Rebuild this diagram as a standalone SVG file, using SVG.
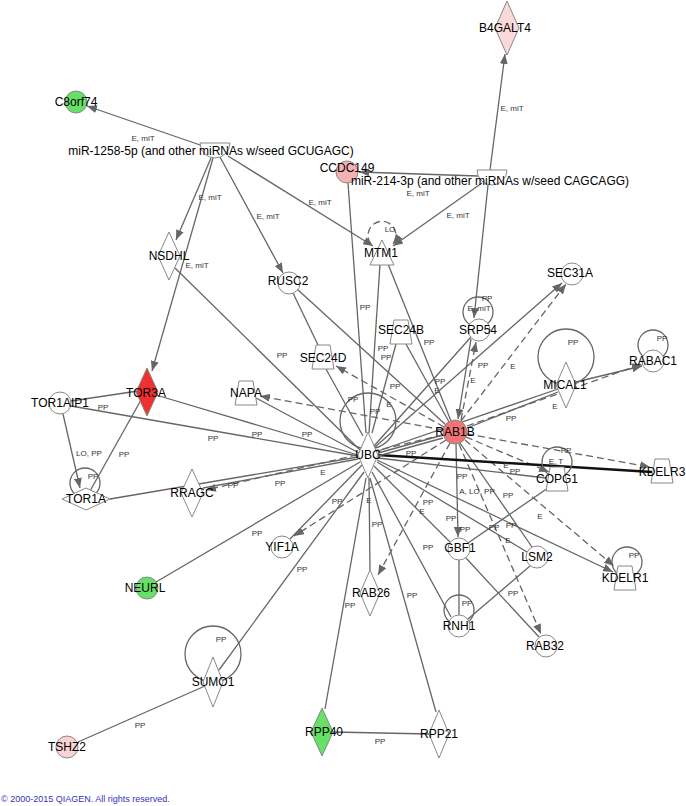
<svg xmlns="http://www.w3.org/2000/svg" width="686" height="806" viewBox="0 0 686 806">
<defs>
<marker id="ah" viewBox="0 0 10 8" refX="10" refY="4" markerWidth="10" markerHeight="8" markerUnits="userSpaceOnUse" orient="auto"><path d="M0,0 L10,4 L0,8 z" fill="#666"/></marker>
<style>
.e{stroke:#666;stroke-width:1.3;fill:none}
.d{stroke:#666;stroke-width:1.3;fill:none;stroke-dasharray:7,4}
.a{marker-end:url(#ah)}
.n{stroke:#888;stroke-width:1;fill:#fff}
.t{font-family:"Liberation Sans",Arial,sans-serif;font-size:12px;fill:#000;text-anchor:middle}
.l{font-family:"Liberation Sans",Arial,sans-serif;font-size:8px;fill:#333;text-anchor:middle}
.c{font-family:"Liberation Sans",Arial,sans-serif;font-size:9px;fill:#3333bb}
</style>
</defs>
<rect width="686" height="806" fill="#fff"/>
<g id="edges">
<line class="e a" x1="203" y1="146" x2="87" y2="106"/>
<line class="e a" x1="211" y1="158" x2="176" y2="240"/>
<line class="e a" x1="213" y1="158" x2="152" y2="371"/>
<line class="e a" x1="220" y1="157" x2="283" y2="273"/>
<line class="e a" x1="228" y1="156" x2="373" y2="246"/>
<line class="e a" x1="490" y1="170" x2="505" y2="54"/>
<line class="e a" x1="478" y1="176" x2="359" y2="172"/>
<line class="e a" x1="482" y1="183" x2="393" y2="246"/>
<line class="e a" x1="488" y1="185" x2="474" y2="318"/>
<path class="d a" d="M371,244 A14 14 0 1 1 393,244"/>
<line class="e" x1="348" y1="183" x2="366" y2="433"/>
<line class="e" x1="380" y1="264" x2="369" y2="433"/>
<line class="e" x1="388" y1="264" x2="451" y2="421"/>
<line class="e" x1="175" y1="268" x2="360" y2="450"/>
<line class="e" x1="293" y1="293" x2="318" y2="345"/>
<line class="e" x1="297" y1="289" x2="446" y2="425"/>
<line class="e" x1="326" y1="369" x2="363" y2="436"/>
<line class="d a" x1="444" y1="427" x2="336" y2="366"/>
<line class="d a" x1="443" y1="430" x2="260" y2="396"/>
<line class="e" x1="256" y1="398" x2="359" y2="453"/>
<line class="e" x1="71" y1="401" x2="138" y2="391"/>
<line class="e" x1="156" y1="395" x2="358" y2="455"/>
<line class="e" x1="71" y1="406" x2="358" y2="456"/>
<line class="e a" x1="63" y1="414" x2="80" y2="488"/>
<line class="e" x1="90" y1="491" x2="141" y2="400"/>
<line class="e" x1="110" y1="499" x2="358" y2="457"/>
<line class="e" x1="203" y1="488" x2="358" y2="459"/>
<line class="d a" x1="443" y1="435" x2="206" y2="490"/>
<line class="e" x1="360" y1="462" x2="156" y2="582"/>
<line class="e" x1="362" y1="465" x2="290" y2="539"/>
<line class="d a" x1="446" y1="440" x2="294" y2="536"/>
<line class="e" x1="364" y1="472" x2="219" y2="670"/>
<line class="e" x1="366" y1="478" x2="325" y2="709"/>
<line class="e" x1="370" y1="478" x2="436" y2="712"/>
<line class="e" x1="333" y1="732" x2="429" y2="734"/>
<line class="e" x1="205" y1="686" x2="78" y2="742"/>
<line class="e" x1="369" y1="478" x2="370" y2="570"/>
<line class="d a" x1="450" y1="443" x2="378" y2="575"/>
<line class="e" x1="372" y1="472" x2="451" y2="617"/>
<line class="e" x1="374" y1="466" x2="450" y2="542"/>
<line class="e a" x1="456" y1="444" x2="458" y2="537"/>
<line class="e" x1="459" y1="560" x2="459" y2="615"/>
<line class="e" x1="466" y1="558" x2="539" y2="637"/>
<line class="e" x1="530" y1="566" x2="468" y2="619"/>
<line class="d a" x1="459" y1="444" x2="541" y2="634"/>
<line class="e" x1="377" y1="462" x2="527" y2="552"/>
<line class="e" x1="460" y1="443" x2="532" y2="547"/>
<line class="e a" x1="377" y1="460" x2="613" y2="572"/>
<line class="d a" x1="465" y1="440" x2="614" y2="566"/>
<line class="e" x1="378" y1="458" x2="546" y2="478"/>
<line class="d a" x1="466" y1="437" x2="549" y2="472"/>
<line class="e" x1="548" y1="488" x2="468" y2="543"/>
<line x1="378" y1="455" x2="652" y2="472" stroke="#111" stroke-width="2.5"/>
<line class="d a" x1="467" y1="434" x2="650" y2="467"/>
<line class="e" x1="378" y1="453" x2="443" y2="435"/>
<line class="e" x1="378" y1="456" x2="443" y2="438"/>
<line class="e" x1="378" y1="451" x2="558" y2="389"/>
<line class="e" x1="467" y1="428" x2="558" y2="392"/>
<line class="d a" x1="467" y1="426" x2="642" y2="364"/>
<line class="e a" x1="576" y1="382" x2="642" y2="366"/>
<line class="e a" x1="375" y1="447" x2="562" y2="283"/>
<line class="d a" x1="461" y1="421" x2="566" y2="284"/>
<line class="e" x1="374" y1="446" x2="471" y2="337"/>
<line class="e a" x1="471" y1="339" x2="458" y2="419"/>
<line class="d a" x1="461" y1="420" x2="476" y2="342"/>
<line class="e" x1="396" y1="344" x2="372" y2="433"/>
<line class="e" x1="406" y1="344" x2="449" y2="422"/>
<circle class="e" cx="478" cy="312" r="15"/>
<circle class="e" cx="368" cy="421" r="28"/>
<circle class="e" cx="566" cy="357" r="28"/>
<circle class="e" cx="653" cy="345" r="15"/>
<circle class="e" cx="557" cy="462" r="15"/>
<circle class="e" cx="627" cy="562" r="15"/>
<circle class="e" cx="459" cy="610" r="15"/>
<circle class="e" cx="85" cy="483" r="15"/>
<circle class="e" cx="213" cy="654" r="28"/>
<g class="l">
<text x="143" y="141">E, miT</text><text x="210" y="200">E, miT</text><text x="268" y="219">E, miT</text><text x="320" y="205">E, miT</text><text x="197" y="268">E, miT</text><text x="512" y="111">E, miT</text><text x="418" y="196">E, miT</text><text x="458" y="218">E, miT</text><text x="479" y="311">E, miT</text><text x="487" y="301">PP</text><text x="390" y="232">LO</text>
<text x="282" y="358">PP</text><text x="103" y="410">PP</text><text x="213" y="441">PP</text><text x="257" y="437">PP</text><text x="307" y="437">PP</text><text x="89" y="456">LO, PP</text><text x="124" y="457">PP</text><text x="93" y="479">PP</text><text x="323" y="475">E</text><text x="233" y="488">PP</text><text x="280" y="486">PP</text><text x="337" y="504">PP</text><text x="257" y="536">PP</text><text x="302" y="572">PP</text><text x="221" y="642">PP</text><text x="140" y="728">PP</text>
<text x="365" y="310">PP</text><text x="383" y="351">PP</text><text x="386" y="360">PP</text><text x="429" y="345">PP</text><text x="353" y="402">PP</text><text x="375" y="414">PP</text><text x="389" y="407">E</text><text x="395" y="389">PP</text><text x="440" y="384">PP</text><text x="437" y="393">E</text><text x="483" y="368">PP</text><text x="513" y="369">E</text><text x="473" y="383">E</text><text x="573" y="345">PP</text><text x="662" y="341">PP</text><text x="511" y="421">PP</text><text x="555" y="409">E</text>
<text x="411" y="456">PP</text><text x="506" y="468">E</text><text x="515" y="474">PP</text><text x="566" y="453">PP</text><text x="556" y="464">E, T</text><text x="462" y="479">PP</text><text x="477" y="494">A, LO, PP</text><text x="508" y="498">PP</text><text x="369" y="503">E</text><text x="428" y="505">PP</text><text x="422" y="514">E</text><text x="451" y="521">PP</text><text x="377" y="527">PP</text><text x="465" y="532">PP</text><text x="540" y="519">E</text><text x="494" y="530">PP</text><text x="511" y="528">PP</text><text x="508" y="543">E</text><text x="428" y="550">PP</text><text x="412" y="598">PP</text><text x="467" y="606">PP</text><text x="513" y="596">PP</text><text x="634" y="558">PP</text><text x="380" y="744">PP</text><text x="350" y="608">PP</text>
</g>
</g>
<g id="n-miR1258"><path class="n" d="M200,143 H230 A15 15 0 0 1 200,143 Z"/><text class="t" x="211" y="155">miR-1258-5p (and other miRNAs w/seed GCUGAGC)</text></g>
<g id="n-miR214"><path class="n" d="M477,170 H507 A15 15 0 0 1 477,170 Z"/></g>
<g id="n-B4GALT4"><polygon class="n" points="507,1 519,28 507,55 495,28" style="fill:#f9d9d9"/><text class="t" x="505" y="32">B4GALT4</text></g>
<g id="n-C8orf74"><circle class="n" cx="76" cy="102" r="11" style="fill:#66e066"/><text class="t" x="76" y="106">C8orf74</text></g>
<g id="n-CCDC149"><circle class="n" cx="347" cy="172" r="11" style="fill:#f4b3b3"/><text class="t" x="347" y="172">CCDC149</text></g>
<g id="n-miR214-label"><text class="t" x="490" y="185">miR-214-3p (and other miRNAs w/seed CAGCAGG)</text></g>
<g id="n-NSDHL"><polygon class="n" points="169,232 180,256 169,280 158,256"/><text class="t" x="169" y="260">NSDHL</text></g>
<g id="n-RUSC2"><circle class="n" cx="289" cy="283" r="11"/><text class="t" x="288" y="285">RUSC2</text></g>
<g id="n-MTM1"><polygon class="n" points="382,240 394,265 370,265"/><text class="t" x="381" y="257">MTM1</text></g>
<g id="n-SEC31A"><circle class="n" cx="572" cy="274" r="11"/><text class="t" x="570" y="277">SEC31A</text></g>
<g id="n-SRP54"><circle class="n" cx="479" cy="330" r="11"/><text class="t" x="478" y="334">SRP54</text></g>
<g id="n-SEC24B"><polygon class="n" points="394,320 408,320 412,344 390,344"/><text class="t" x="401" y="334">SEC24B</text></g>
<g id="n-SEC24D"><polygon class="n" points="316,345 330,345 334,369 312,369"/><text class="t" x="323" y="362">SEC24D</text></g>
<g id="n-NAPA"><polygon class="n" points="239,381 253,381 257,405 235,405"/><text class="t" x="246" y="397">NAPA</text></g>
<g id="n-RABAC1"><circle class="n" cx="653" cy="361" r="11"/><text class="t" x="653" y="365">RABAC1</text></g>
<g id="n-MICAL1"><polygon class="n" points="566,362 576,385 566,408 556,385"/><text class="t" x="565" y="389">MICAL1</text></g>
<g id="n-TOR3A"><polygon class="n" points="147,368 158,392 147,416 136,392" style="fill:#ee3030"/><text class="t" x="146" y="397">TOR3A</text></g>
<g id="n-TOR1AIP1"><circle class="n" cx="60" cy="403" r="11"/><text class="t" x="60" y="407">TOR1AIP1</text></g>
<g id="n-RAB1B"><circle class="n" cx="455" cy="432" r="12" style="fill:#f07474"/><text class="t" x="455" y="436">RAB1B</text></g>
<g id="n-UBC"><polygon class="n" points="368,432 378,455 368,478 358,455"/><text class="t" x="368" y="459">UBC</text></g>
<g id="n-COPG1"><polygon class="n" points="550,467 564,467 568,491 546,491"/><text class="t" x="557" y="483">COPG1</text></g>
<g id="n-KDELR3"><polygon class="n" points="655,459 669,459 673,483 651,483"/><text class="t" x="662" y="476">KDELR3</text></g>
<g id="n-TOR1A"><polygon class="n" points="62,499 86,488 110,499 86,510"/><text class="t" x="86" y="503">TOR1A</text></g>
<g id="n-RRAGC"><polygon class="n" points="192,469 203,493 192,517 181,493"/><text class="t" x="192" y="497">RRAGC</text></g>
<g id="n-YIF1A"><circle class="n" cx="282" cy="547" r="11"/><text class="t" x="282" y="551">YIF1A</text></g>
<g id="n-GBF1"><circle class="n" cx="459" cy="549" r="11"/><text class="t" x="460" y="552">GBF1</text></g>
<g id="n-LSM2"><circle class="n" cx="537" cy="557" r="11"/><text class="t" x="537" y="561">LSM2</text></g>
<g id="n-KDELR1"><polygon class="n" points="618,566 632,566 636,590 614,590"/><text class="t" x="625" y="582">KDELR1</text></g>
<g id="n-NEURL"><circle class="n" cx="147" cy="588" r="11" style="fill:#66e066"/><text class="t" x="145" y="592">NEURL</text></g>
<g id="n-RAB26"><polygon class="n" points="370,570 380,593 370,616 360,593"/><text class="t" x="371" y="597">RAB26</text></g>
<g id="n-RNH1"><circle class="n" cx="459" cy="626" r="11"/><text class="t" x="459" y="630">RNH1</text></g>
<g id="n-RAB32"><circle class="n" cx="546" cy="646" r="11"/><text class="t" x="545" y="650">RAB32</text></g>
<g id="n-SUMO1"><polygon class="n" points="213,657 223,682 213,707 203,682"/><text class="t" x="213" y="686">SUMO1</text></g>
<g id="n-RPP40"><polygon class="n" points="322,708 333,732 322,756 311,732" style="fill:#66e066"/><text class="t" x="324" y="736">RPP40</text></g>
<g id="n-RPP21"><polygon class="n" points="439,710 449,734 439,758 429,734"/><text class="t" x="439" y="738">RPP21</text></g>
<g id="n-TSHZ2"><circle class="n" cx="67" cy="747" r="11" style="fill:#f9d3d3"/><text class="t" x="67" y="751">TSHZ2</text></g>
<text class="c" x="1" y="802">© 2000-2015 QIAGEN. All rights reserved.</text>
</svg>
